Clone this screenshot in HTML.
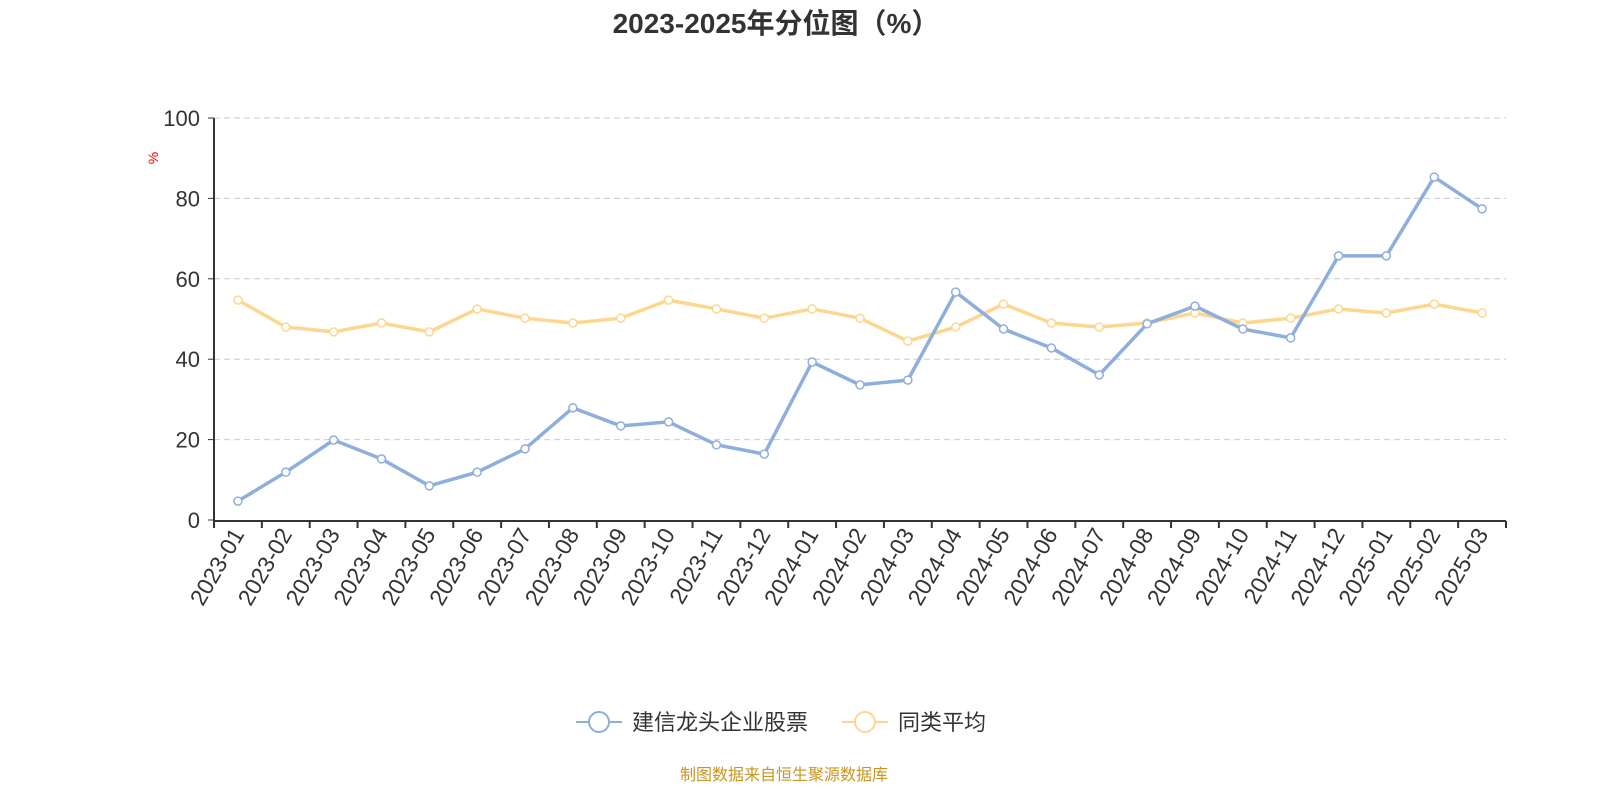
<!DOCTYPE html>
<html><head><meta charset="utf-8"><style>
body{margin:0;background:#fff;width:1600px;height:800px;overflow:hidden}
text{font-family:"Liberation Sans","Noto Sans CJK SC",sans-serif}
</style></head><body>
<svg id="c" width="1600" height="800" xmlns="http://www.w3.org/2000/svg">
<text x="776" y="33" text-anchor="middle" font-size="28" font-weight="bold" fill="#333">2023-2025年分位图（%）</text>
<text transform="translate(158,158) rotate(-90)" text-anchor="middle" font-size="14" fill="#f00">%</text>
<g id="grid"></g><g id="axes"></g><g id="series"></g>
<g>
<g>
<line x1="576" y1="722" x2="622" y2="722" stroke="#8eaedc" stroke-width="2"/><circle cx="599" cy="722" r="10" fill="#fff" stroke="#8eaedc" stroke-width="2"/>
<text x="632" y="730" font-size="22" fill="#333">建信龙头企业股票</text></g>
<g>
<line x1="842" y1="722" x2="888" y2="722" stroke="#fdd78f" stroke-width="2"/><circle cx="865" cy="722" r="10" fill="#fff" stroke="#fdd78f" stroke-width="2"/>
<text x="898" y="730" font-size="22" fill="#333">同类平均</text></g>
</g>
<text x="784" y="780" text-anchor="middle" font-size="16" fill="#c8961e">制图数据来自恒生聚源数据库</text>
</svg>
<script>
const categories=["2023-01","2023-02","2023-03","2023-04","2023-05","2023-06","2023-07","2023-08","2023-09","2023-10","2023-11","2023-12","2024-01","2024-02","2024-03","2024-04","2024-05","2024-06","2024-07","2024-08","2024-09","2024-10","2024-11","2024-12","2025-01","2025-02","2025-03"];
const fundValues=[4.7,11.9,19.9,15.2,8.5,11.9,17.7,27.9,23.4,24.4,18.7,16.4,39.3,33.6,34.8,56.7,47.5,42.8,36.1,48.8,53.2,47.5,45.3,65.7,65.7,85.3,77.4];
const avgValues=[54.7,48.0,46.8,49.0,46.8,52.5,50.2,49.0,50.2,54.7,52.5,50.2,52.5,50.2,44.5,48.0,53.7,49.0,48.0,49.0,51.5,49.0,50.2,52.5,51.5,53.7,51.5];
const yTicks=[0,20,40,60,80,100];
const NS="http://www.w3.org/2000/svg";
const X0=214,X1=1506,Y0=520,Y1=118;
const bw=(X1-X0)/categories.length;
const xs=i=>X0+bw*(i+0.5);
const ys=v=>Y0-(v/100)*(Y0-Y1);
function mk(t,a,p){const e=document.createElementNS(NS,t);for(const k in a)e.setAttribute(k,a[k]);p.appendChild(e);return e;}
const grid=document.getElementById('grid'),axes=document.getElementById('axes'),ser=document.getElementById('series');
yTicks.forEach(v=>{
 if(v>0){const g=mk('line',{x1:X0,x2:X1,y1:ys(v),y2:ys(v),stroke:'#ccc','stroke-dasharray':'6,4'},grid);
 
 }
 const t=mk('text',{x:X0-14,y:ys(v)+8,'text-anchor':'end','font-size':22,fill:'#333'},axes);t.textContent=v;
 
 
 mk('line',{x1:X0-6,x2:X0,y1:ys(v),y2:ys(v),stroke:'#333'},axes);
});
let a=mk('line',{x1:X0,x2:X0,y1:Y1,y2:Y0+1,stroke:'#333','stroke-width':2},axes);


a=mk('line',{x1:X0,x2:X1,y1:Y0+1,y2:Y0+1,stroke:'#333','stroke-width':2},axes);


for(let i=0;i<=categories.length;i++)mk('line',{x1:X0+bw*i,x2:X0+bw*i,y1:Y0+1,y2:Y0+8,stroke:'#333','stroke-width':2},axes);
categories.forEach((c,i)=>{
 const t=mk('text',{transform:`translate(${xs(i)+7},${Y0+14}) rotate(-60)`,'text-anchor':'end','font-size':23,fill:'#333'},axes);
 t.textContent=c;
 
 
});
function series(vals,col,name){
 const p=mk('polyline',{points:vals.map((v,i)=>xs(i)+','+ys(v)).join(' '),fill:'none',stroke:col,'stroke-width':3.5,'stroke-linejoin':'round'},ser);
 
 
 vals.forEach((v,i)=>{const c=mk('circle',{cx:xs(i),cy:ys(v),r:4,fill:'#fff',stroke:col,'stroke-width':1.5},ser);
 
 });
}
series(avgValues,'#fdd78f','average');
series(fundValues,'#8eaedc','fund');
</script>
</body></html>
